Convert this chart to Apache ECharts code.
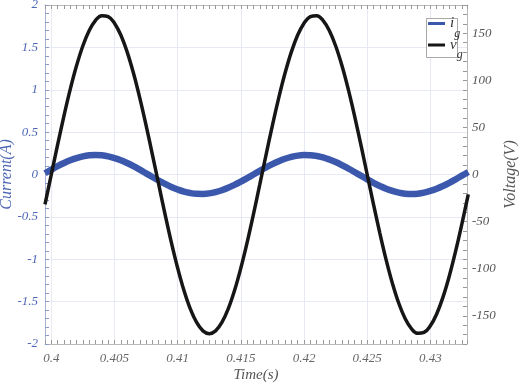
<!DOCTYPE html>
<html>
<head>
<meta charset="utf-8">
<script src="https://cdn.jsdelivr.net/npm/echarts@6/dist/echarts.min.js"></script>
<style>html,body{margin:0;padding:0;background:#fff}#c{width:521px;height:384px}</style>
</head>
<body>
<div id="c"></div>
<script>
const timeS = [0.3995,0.4000,0.4005,0.4010,0.4015,0.4020,0.4025,0.4030,0.4035,0.4040,0.4045,0.4050,0.4055,0.4060,0.4065,0.4070,0.4075,0.4080,0.4085,0.4090,0.4095,
0.4100,0.4105,0.4110,0.4115,0.4120,0.4125,0.4130,0.4135,0.4140,0.4145,0.4150,0.4155,0.4160,0.4165,0.4170,0.4175,0.4180,0.4185,0.4190,0.4195,
0.4200,0.4205,0.4210,0.4215,0.4220,0.4225,0.4230,0.4235,0.4240,0.4245,0.4250,0.4255,0.4260,0.4265,0.4270,0.4275,0.4280,0.4285,0.4290,0.4295,
0.4300,0.4305,0.4310,0.4315,0.4320,0.4325,0.4330];
const currentA = [0.014,0.057,0.098,0.135,0.168,0.194,0.214,0.226,0.230,0.226,0.214,0.194,0.168,0.135,0.098,0.057,0.014,-0.029,-0.071,-0.111,-0.147,
-0.177,-0.202,-0.219,-0.228,-0.229,-0.223,-0.208,-0.186,-0.157,-0.123,-0.085,-0.043,0.000,0.043,0.085,0.123,0.157,0.186,0.208,0.223,
0.229,0.228,0.219,0.202,0.177,0.147,0.111,0.071,0.029,-0.014,-0.057,-0.098,-0.135,-0.168,-0.194,-0.214,-0.226,-0.230,-0.226,-0.214,
-0.194,-0.168,-0.135,-0.098,-0.057,-0.014,0.029];
const voltageV = [-31.7,0,31.7,62.2,90.6,115.7,136.7,152.9,163.7,168.7,167.7,160.7,148.1,130.2,107.7,81.4,52.2,21.2,-10.6,-42.0,-72.0,
-99.3,-123.2,-142.7,-157.1,-166.0,-169.0,-166.0,-157.1,-142.7,-123.2,-99.3,-72.0,-42.0,-10.6,21.2,52.2,81.4,107.7,130.2,148.1,
160.7,167.7,168.7,163.7,152.9,136.7,115.7,90.6,62.2,31.7,0,-31.7,-62.2,-90.6,-115.7,-136.7,-152.9,-163.7,-168.7,-167.7,
-160.7,-148.1,-130.2,-107.7,-81.4,-52.2,-21.2];
const xTickLabels = [0.4, 0.405, 0.41, 0.415, 0.42, 0.425, 0.43];
const voltTickLabels = [150, 100, 50, 0, -50, -100, -150];
const seriesNames = ['i_g', 'v_g'];

const FONT = '"Liberation Serif", "Times New Roman", serif';
const BLUE = '#3b58ad';
const LBLUE = '#4d67b6';
const GRAY = '#555';
const FRAME = '#b9b9b9';
const GRID = '#e6e9f3';

const curData = timeS.map((t, i) => [t, currentA[i]]);
const volData = timeS.map((t, i) => [t, voltageV[i]]);

const xSplitColors = [];
for (let i = 0; i < 10; i++) xSplitColors.push(i === 1 ? GRID : 'rgba(0,0,0,0)');

const chart = echarts.init(document.getElementById('c'), null, {renderer: 'canvas'});
chart.setOption({
  animation: false,
  backgroundColor: '#fff',
  grid: {left: 45, right: 54, top: 5, bottom: 40, containLabel: false, outerBoundsMode: 'none'},
  graphic: [{
    type: 'rect', z: 3,
    shape: {x: 426.5, y: 18.5, width: 31, height: 39},
    style: {fill: '#fff', stroke: '#a8a8a8', lineWidth: 1}
  }],
  legend: {
    orient: 'vertical', left: 428, top: 16, padding: 0, itemGap: -2,
    itemWidth: 17, itemHeight: 3, icon: 'rect', z: 5,
    data: seriesNames,
    formatter: function (name) {
      const p = name.split('_');
      return '{n|' + p[0] + '}{s|' + p[1] + '}';
    },
    textStyle: {
      rich: {
        n: {fontFamily: FONT, fontStyle: 'italic', fontSize: 15, color: '#333'},
        s: {fontFamily: FONT, fontStyle: 'italic', fontSize: 12, color: '#333', padding: [20, 0, 0, 0]}
      }
    }
  },
  xAxis: [{
    type: 'value', min: 0.3995, max: 0.4329, interval: 0.0005, position: 'bottom',
    name: 'Time(s)', nameLocation: 'middle', nameGap: 24, nameMoveOverlap: false,
    nameTextStyle: {fontFamily: FONT, fontStyle: 'italic', fontSize: 15, color: GRAY},
    axisLine: {show: true, onZero: false, lineStyle: {color: FRAME, width: 1}},
    axisTick: {show: true, inside: true, length: 4, lineStyle: {color: '#999'}},
    axisLabel: {
      margin: 8, fontFamily: FONT, fontStyle: 'italic', fontSize: 13, color: '#666',
      formatter: function (v) {
        for (const t of xTickLabels) if (Math.abs(t - v) < 1e-7) return String(t);
        return '';
      }
    },
    splitLine: {show: true, lineStyle: {color: xSplitColors, width: 1}}
  }, {
    type: 'value', position: 'top', min: 0.3995, max: 0.4329, interval: 0.0005,
    axisLine: {show: true, onZero: false, lineStyle: {color: FRAME, width: 1}},
    axisTick: {show: true, inside: true, length: 4, lineStyle: {color: '#999'}},
    axisLabel: {show: false},
    splitLine: {show: false}
  }],
  yAxis: [{
    type: 'value', min: -2, max: 2, interval: 0.5, position: 'left',
    name: 'Current(A)', nameLocation: 'middle', nameGap: 30, nameMoveOverlap: false,
    nameTextStyle: {fontFamily: FONT, fontStyle: 'italic', fontSize: 16, color: LBLUE},
    axisLine: {show: true, onZero: false, lineStyle: {color: '#aab4d6', width: 1}},
    axisTick: {show: true, inside: true, length: 4, lineStyle: {color: '#8d9bcb'}},
    minorTick: {show: true, splitNumber: 5, length: 4, lineStyle: {color: '#8d9bcb'}},
    axisLabel: {margin: 7, fontFamily: FONT, fontStyle: 'italic', fontSize: 13, color: LBLUE},
    splitLine: {show: true, lineStyle: {color: GRID, width: 1}}
  }, {
    type: 'value', min: -180, max: 180, interval: 10, position: 'right',
    name: 'Voltage(V)', nameLocation: 'middle', nameGap: 36, nameMoveOverlap: false,
    nameTextStyle: {fontFamily: FONT, fontStyle: 'italic', fontSize: 16, color: GRAY},
    axisLine: {show: true, onZero: false, lineStyle: {color: FRAME, width: 1}},
    axisTick: {show: true, inside: true, length: 4, lineStyle: {color: '#999'}},
    axisLabel: {
      margin: 5, fontFamily: FONT, fontStyle: 'italic', fontSize: 13, color: GRAY,
      formatter: function (v) { return voltTickLabels.includes(v) ? String(v) : ''; }
    },
    splitLine: {show: false}
  }],
  series: [{
    name: seriesNames[0], type: 'line', xAxisIndex: 0, yAxisIndex: 0,
    data: curData, showSymbol: false, smooth: 0.4, z: 2,
    lineStyle: {color: BLUE, width: 6.5}, itemStyle: {color: BLUE}
  }, {
    name: seriesNames[1], type: 'line', xAxisIndex: 0, yAxisIndex: 1,
    data: volData, showSymbol: false, smooth: 0.4, z: 3,
    lineStyle: {color: '#161616', width: 3.5}, itemStyle: {color: '#161616'}
  }]
});
</script>
</body>
</html>
